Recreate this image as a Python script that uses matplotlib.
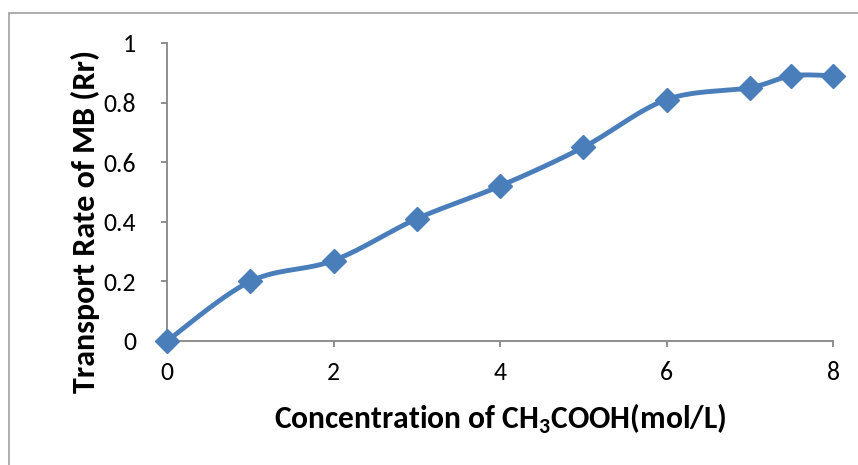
import numpy as np
import matplotlib
matplotlib.use("Agg")
import matplotlib.pyplot as plt
from matplotlib.patches import Rectangle

# Data
concentration = [0, 1, 2, 3, 4, 5, 6, 7, 7.5, 8]
transport_rate = [0.0, 0.20, 0.27, 0.41, 0.52, 0.65, 0.81, 0.85, 0.89, 0.89]
x_ticks = [0, 2, 4, 6, 8]
y_ticks = [0, 0.2, 0.4, 0.6, 0.8, 1.0]
y_tick_labels = ["0", "0.2", "0.4", "0.6", "0.8", "1"]

plt.rcParams['font.family'] = ['Carlito', 'DejaVu Sans']
plt.rcParams['mathtext.fontset'] = 'custom'
plt.rcParams['mathtext.rm'] = 'Carlito:bold'
plt.rcParams['mathtext.bf'] = 'Carlito:bold'

color = '#4A7EBB'
axis_color = '#868686'

def catmull_rom(xs, ys, n=30):
    pts = np.column_stack([xs, ys]).astype(float)
    P = np.vstack([pts[0], pts, pts[-1]])
    out = []
    for i in range(1, len(P) - 2):
        p0, p1, p2, p3 = P[i - 1], P[i], P[i + 1], P[i + 2]
        t = np.linspace(0, 1, n, endpoint=(i == len(P) - 3))[:, None]
        c1 = p1 + (p2 - p0) / 6.0
        c2 = p2 - (p3 - p1) / 6.0
        seg = ((1 - t) ** 3) * p1 + 3 * ((1 - t) ** 2) * t * c1 + 3 * (1 - t) * t ** 2 * c2 + t ** 3 * p2
        out.append(seg)
    out = np.vstack(out)
    return out[:, 0], out[:, 1]

fig = plt.figure(figsize=(8.58, 4.65), dpi=100)
fig.patches.append(Rectangle((9 / 858, -0.1), 1.2, 1 - 13 / 465 + 0.1,
                             transform=fig.transFigure, fill=False,
                             edgecolor='#A0A0A0', linewidth=1.2))

ax = fig.add_axes([167 / 858, 1 - 341 / 465, (833 - 167) / 858, (341 - 43) / 465])

sx, sy = catmull_rom(concentration, transport_rate)
ax.plot(sx, sy, color=color, linewidth=3.5, solid_capstyle='round', zorder=3, clip_on=False)
ax.plot(concentration, transport_rate, linestyle='none', marker='D', markersize=12.5,
        color=color, zorder=4, clip_on=False)

ax.set_xlim(0, 8)
ax.set_ylim(0, 1)
ax.set_xticks(x_ticks)
ax.set_xticklabels([str(v) for v in x_ticks])
ax.set_yticks(y_ticks)
ax.set_yticklabels(y_tick_labels)

for s in ['top', 'right']:
    ax.spines[s].set_visible(False)
for s in ['left', 'bottom']:
    ax.spines[s].set_color(axis_color)
    ax.spines[s].set_linewidth(1.3)

ax.tick_params(axis='both', direction='out', length=4.3, width=1.3, color=axis_color,
               labelsize=18.5, labelcolor='black')
ax.tick_params(axis='x', pad=10)
ax.tick_params(axis='y', pad=18)

ax.set_xlabel(r"Concentration of CH$_\mathbf{3}$COOH(mol/L)",
              family=['Carlito', 'DejaVu Sans'], fontsize=22.7, fontweight='bold', va='center')
ax.set_ylabel("Transport Rate of MB (Rr)",
              family=['Carlito', 'DejaVu Sans'], fontsize=23, fontweight='bold', va='center')
ax.xaxis.set_label_coords(0.5, -0.262)
ax.yaxis.set_label_coords(-0.123, 0.40)

fig.savefig("out.png", dpi=100)
